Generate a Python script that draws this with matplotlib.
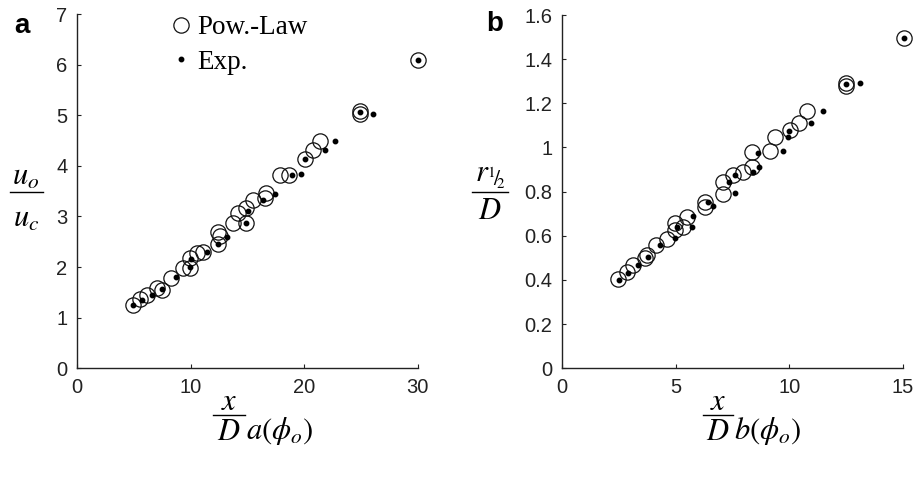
import matplotlib
matplotlib.use("Agg")
import matplotlib.pyplot as plt
from matplotlib.lines import Line2D

plt.rcParams['font.family'] = ['Liberation Sans', 'DejaVu Sans']
plt.rcParams['mathtext.fontset'] = 'stix'

# Panel a data: x/D*a(phi_o) vs u_o/u_c
a_pow_x = [4.93, 5.52, 6.11, 6.99, 7.43, 8.25, 9.33, 9.92, 9.92, 10.51, 11.09,
           12.41, 12.56, 12.41, 13.73, 14.17, 14.91, 14.91, 15.5, 16.52, 16.67,
           17.84, 18.66, 20.04, 20.78, 21.37, 24.9, 24.9, 30.05]
a_pow_y = [1.26, 1.36, 1.45, 1.58, 1.55, 1.78, 1.98, 2.17, 1.98, 2.27, 2.30,
           2.70, 2.61, 2.46, 2.87, 3.06, 2.87, 3.16, 3.33, 3.36, 3.46,
           3.82, 3.82, 4.14, 4.31, 4.49, 5.08, 5.03, 6.09]
a_exp_x = [4.95, 5.67, 6.55, 7.43, 8.69, 9.92, 10.0, 11.39, 12.41, 13.15, 14.91,
           15.05, 16.37, 17.4, 18.96, 19.75, 20.04, 21.8, 22.68, 24.9, 26.07, 30.05]
a_exp_y = [1.25, 1.34, 1.45, 1.56, 1.81, 2.01, 2.16, 2.29, 2.45, 2.60, 2.87,
           3.10, 3.33, 3.44, 3.82, 3.84, 4.14, 4.31, 4.49, 5.07, 5.03, 6.09]

# Panel b data: x/D*b(phi_o) vs r_1/2 / D
b_pow_x = [2.47, 2.84, 3.13, 3.64, 3.75, 4.13, 4.63, 4.97, 4.97, 5.33, 5.48,
           6.29, 6.29, 7.1, 7.1, 7.54, 7.95, 8.35, 8.35, 9.15, 9.37, 10.04,
           10.45, 10.77, 12.5, 12.5, 15.06]
b_pow_y = [0.403, 0.438, 0.468, 0.498, 0.513, 0.558, 0.584, 0.657, 0.626, 0.641,
           0.687, 0.755, 0.732, 0.789, 0.845, 0.876, 0.891, 0.913, 0.981, 0.986,
           1.049, 1.079, 1.11, 1.167, 1.29, 1.28, 1.496]
b_exp_x = [2.5, 2.91, 3.35, 3.79, 4.31, 4.97, 5.04, 5.70, 5.77, 6.44, 6.66, 7.36,
           7.61, 7.61, 8.42, 8.68, 8.64, 9.71, 9.93, 10.0, 10.95, 11.48, 12.5,
           13.12, 15.06]
b_exp_y = [0.40, 0.433, 0.468, 0.506, 0.558, 0.589, 0.641, 0.638, 0.690, 0.755,
           0.735, 0.845, 0.792, 0.876, 0.891, 0.913, 0.977, 0.986, 1.049, 1.075,
           1.11, 1.165, 1.286, 1.293, 1.496]

a_xticks = [0, 10, 20, 30]
a_yticks = [0, 1, 2, 3, 4, 5, 6, 7]
b_xticks = [0, 5, 10, 15]
b_yticks = [0, 0.2, 0.4, 0.6, 0.8, 1, 1.2, 1.4, 1.6]
b_yticklabels = ['0', '0.2', '0.4', '0.6', '0.8', '1', '1.2', '1.4', '1.6']

W, H = 916, 479
fig = plt.figure(figsize=(W / 100, H / 100), dpi=100)

def fx(px):
    return px / W

def fy(py):
    return 1 - py / H

axa = fig.add_axes([fx(77.3), fy(368.3), (417.7 - 77.3) / W, (368.3 - 14) / H])
axb = fig.add_axes([fx(562.3), fy(368.3), (902.7 - 562.3) / W, (368.3 - 15) / H])

circ_kw = dict(linestyle='none', marker='o', markersize=11, markerfacecolor='none',
               markeredgecolor='#111111', markeredgewidth=0.9)
dot_kw = dict(linestyle='none', marker='o', markersize=3.2, color='black')

for ax, px_, py_, ex_, ey_, xt, yt in [
        (axa, a_pow_x, a_pow_y, a_exp_x, a_exp_y, a_xticks, a_yticks),
        (axb, b_pow_x, b_pow_y, b_exp_x, b_exp_y, b_xticks, b_yticks)]:
    ax.plot(px_, py_, clip_on=False, **circ_kw)
    ax.plot(ex_, ey_, clip_on=False, **dot_kw)
    ax.set_xticks(xt)
    ax.set_yticks(yt)
    ax.set_xlim(xt[0], xt[-1])
    ax.set_ylim(yt[0], yt[-1])
    for s in ['top', 'right']:
        ax.spines[s].set_visible(False)
    for s in ['left', 'bottom']:
        ax.spines[s].set_linewidth(1.0)
        ax.spines[s].set_color('#222222')
    ax.tick_params(direction='in', length=3, width=0.8, labelsize=14.5, pad=7,
                   colors='#222222')

axb.set_yticklabels(b_yticklabels)

# Legend
handles = [Line2D([], [], **circ_kw), Line2D([], [], **dot_kw)]
leg = axa.legend(handles, ['Pow.-Law', 'Exp.'], loc='upper left',
                 bbox_to_anchor=(fx(174), fy(15)), bbox_transform=fig.transFigure,
                 frameon=False, handlelength=0.5, handletextpad=0.35,
                 labelspacing=0.36, borderpad=0, borderaxespad=0,
                 prop={'family': 'Liberation Serif', 'size': 19.5})

# Panel labels
fig.text(fx(14), fy(26), 'a', fontsize=20, fontweight='bold', va='center', ha='left')
fig.text(fx(486), fy(24), 'b', fontsize=20, fontweight='bold', va='center', ha='left')

FS = 22

def frac(xc, ybar, x0, x1, num, den, ynum, yden):
    fig.text(fx(xc), fy(ynum), num, fontsize=FS, ha='center', va='center')
    fig.text(fx(xc), fy(yden), den, fontsize=FS, ha='center', va='center')
    fig.add_artist(Line2D([fx(x0), fx(x1)], [fy(ybar), fy(ybar)],
                          transform=fig.transFigure, color='black', lw=1.0))

# y labels
frac(26, 192, 10, 43, r'$u_o$', r'$u_c$', 177, 219)
frac(490, 192, 472, 508, r'$r_{{}^{1}\!/\!{}_{2}}$', r'$D$', 176, 211)

# x labels
frac(229, 415, 213, 245, r'$x$', r'$D$', 402, 432)
fig.text(fx(246), fy(431), r'$a\left(\phi_o\right)$', fontsize=FS, ha='left', va='center')
frac(718, 415, 703, 733, r'$x$', r'$D$', 402, 432)
fig.text(fx(734), fy(431), r'$b\left(\phi_o\right)$', fontsize=FS, ha='left', va='center')

fig.savefig('out.png', dpi=100)
